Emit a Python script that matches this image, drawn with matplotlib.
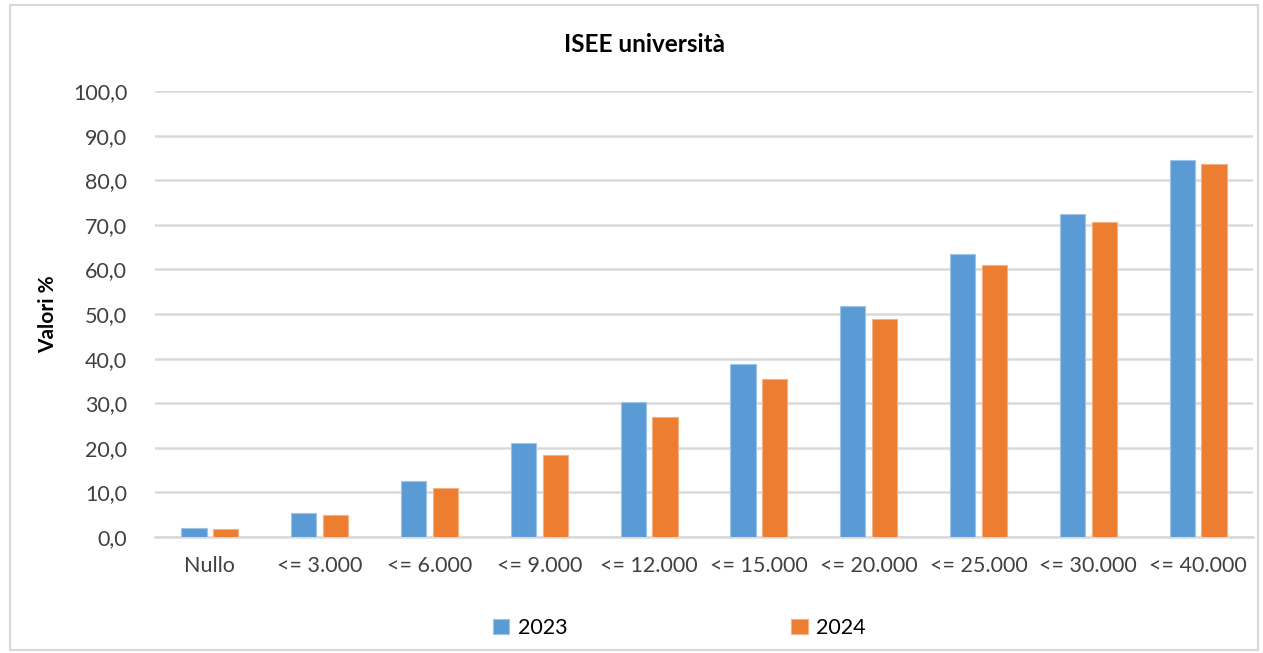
import numpy as np
import matplotlib
matplotlib.use('Agg')
import matplotlib.pyplot as plt
from matplotlib.patches import Rectangle

# ISEE soglie e percentuali
categories = ['Nullo', '<= 3.000', '<= 6.000', '<= 9.000', '<= 12.000',
              '<= 15.000', '<= 20.000', '<= 25.000', '<= 30.000', '<= 40.000']
values_2023 = [2.0, 5.4, 12.6, 21.0, 30.2, 38.7, 51.9, 63.4, 72.4, 84.6]
values_2024 = [1.9, 4.9, 10.9, 18.4, 27.0, 35.4, 48.9, 60.9, 70.6, 83.6]
series_names = ['2023', '2024']

col_2023 = '#5b9bd5'
col_2024 = '#ed7d31'

plt.rcParams['font.family'] = ['Lato', 'DejaVu Sans']

fig = plt.figure(figsize=(12.63, 6.53), dpi=100)
ax = fig.add_axes([155/1263, 1 - 537/653, (1253-155)/1263, (537-91)/653])

x = np.arange(len(categories))
w = 0.23
gap = 0.03
b1 = ax.bar(x - w/2 - gap, values_2023, width=w, color=col_2023,
            edgecolor='#9dc3e6', linewidth=0.8, zorder=3)
b2 = ax.bar(x + w/2 + gap, values_2024, width=w, color=col_2024,
            edgecolor='#f4b183', linewidth=0.8, zorder=3)

ax.set_xlim(-0.5, len(categories) - 0.5)
ax.set_ylim(0, 100)
ax.set_yticks(np.arange(0, 101, 10))
ax.set_yticklabels([f'{v:.1f}'.replace('.', ',') for v in np.arange(0, 101, 10)],
                   fontsize=15.5, color='#404040')
ax.set_xticks(x)
ax.set_xticklabels(categories, fontsize=15.5, color='#404040')
ax.tick_params(axis='y', length=0, pad=20)
ax.tick_params(axis='x', length=0, pad=14)
ax.grid(axis='y', color='#d9d9d9', linewidth=1.8, zorder=0)
for s in ['top', 'right', 'left']:
    ax.spines[s].set_visible(False)
ax.spines['bottom'].set_color('#d9d9d9')
ax.spines['bottom'].set_linewidth(1.8)

ax.set_ylabel('Valori %', fontsize=15, fontweight='bold', color='#000000')
ax.yaxis.set_label_coords(-0.088, 0.5)
fig.text(644/1263, 1 - 44/653, 'ISEE università', ha='center', va='center',
         fontsize=17.5, fontweight='bold', color='#000000')

# legenda
fig.legend([b1, b2], series_names, loc='center', bbox_to_anchor=(0.538, 1 - 628/653),
           ncol=2, frameon=False, fontsize=15.5, handlelength=0.75, handleheight=0.75,
           columnspacing=10.4, handletextpad=0.4)

# cornice esterna
fig.patches.append(Rectangle((10/1263, 3/653), 1248/1263, 645/653, transform=fig.transFigure,
                             fill=False, edgecolor='#d9d9d9', linewidth=1.5))

fig.savefig('out.png', dpi=100)
